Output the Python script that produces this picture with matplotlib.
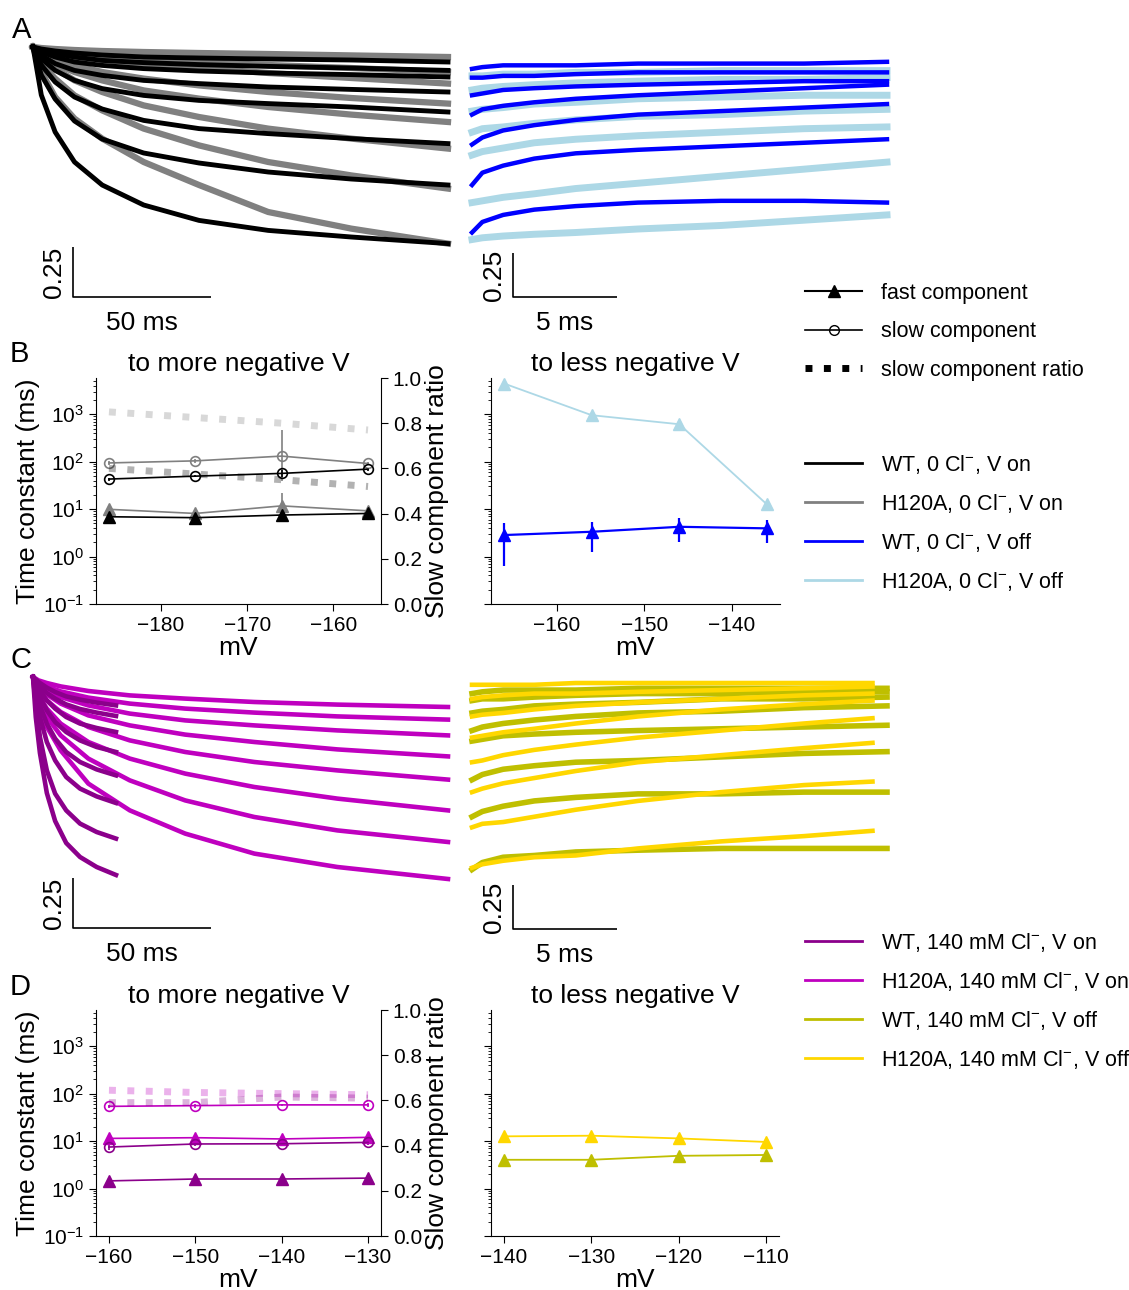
import numpy as np
import matplotlib
matplotlib.use('Agg')
import matplotlib.pyplot as plt
from matplotlib.lines import Line2D

plt.rcParams['font.family'] = ['Liberation Sans', 'DejaVu Sans']
plt.rcParams['mathtext.fontset'] = 'custom'
plt.rcParams['mathtext.rm'] = 'Liberation Sans'
plt.rcParams['mathtext.it'] = 'Liberation Sans:italic'
plt.rcParams['mathtext.bf'] = 'Liberation Sans:bold'

# ---------------- colours ----------------
C_WT0 = 'black'
C_H0 = 'gray'
C_WT0_OFF = 'blue'
C_H0_OFF = 'lightblue'
C_WT140 = 'darkmagenta'
C_H140 = 'm'
C_WT140_OFF = 'y'
C_H140_OFF = 'gold'

# ---------------- traces (normalised current) ----------------
# Panel A, step to more negative V (ms)
A_on_t = [0, 3, 8, 15, 25, 40, 60, 85, 115, 150]
A_on_wt = [
    [0, -.24, -.425, -.575, -.69, -.79, -.867, -.917, -.95, -.983],
    [0, -.14, -.26, -.37, -.46, -.53, -.58, -.625, -.66, -.69],
    [0, -.09, -.175, -.25, -.31, -.367, -.408, -.433, -.458, -.483],
    [0, -.058, -.117, -.167, -.208, -.242, -.267, -.283, -.3, -.325],
    [0, -.042, -.083, -.117, -.142, -.167, -.183, -.2, -.212, -.225],
    [0, -.025, -.05, -.075, -.092, -.108, -.12, -.13, -.138, -.15],
    [0, -.017, -.033, -.05, -.067, -.078, -.088, -.097, -.105, -.117],
    [0, -.01, -.02, -.03, -.04, -.05, -.055, -.06, -.065, -.075],
]
A_on_h120a = [
    [0, -.125, -.25, -.358, -.458, -.575, -.69, -.825, -.908, -.983],
    [0, -.083, -.158, -.242, -.317, -.408, -.492, -.575, -.642, -.708],
    [0, -.058, -.108, -.167, -.225, -.292, -.35, -.408, -.458, -.508],
    [0, -.042, -.083, -.125, -.167, -.217, -.258, -.3, -.338, -.375],
    [0, -.033, -.058, -.092, -.125, -.158, -.192, -.225, -.255, -.283],
    [0, -.02, -.035, -.05, -.065, -.085, -.105, -.13, -.155, -.183],
    [0, -.012, -.025, -.035, -.045, -.06, -.075, -.09, -.105, -.125],
    [0, -.005, -.01, -.015, -.02, -.025, -.03, -.035, -.042, -.05],
]
# Panel A, step to less negative V (ms)
A_off_t = [0, 0.5, 1.5, 3, 5, 8, 12, 16, 20]
A_off_wt = [
    [-.98, -.92, -.88, -.85, -.83, -.81, -.80, -.80, -.81],
    [-.71, -.64, -.60, -.56, -.53, -.51, -.49, -.47, -.45],
    [-.48, -.44, -.40, -.37, -.34, -.31, -.29, -.27, -.25],
    [-.31, -.28, -.26, -.24, -.22, -.20, -.18, -.16, -.14],
    [-.20, -.19, -.17, -.16, -.15, -.14, -.13, -.12, -.12],
    [-.10, -.10, -.09, -.09, -.08, -.07, -.07, -.07, -.07],
    [-.05, -.04, -.03, -.03, -.03, -.02, -.02, -.02, -.01],
]
A_off_h120a = [
    [-1.02, -1.01, -1.00, -.99, -.98, -.96, -.94, -.91, -.88],
    [-.81, -.80, -.78, -.76, -.73, -.70, -.66, -.62, -.58],
    [-.54, -.52, -.50, -.47, -.45, -.43, -.41, -.39, -.38],
    [-.41, -.39, -.38, -.36, -.34, -.32, -.31, -.29, -.28],
    [-.29, -.28, -.27, -.25, -.24, -.22, -.21, -.20, -.20],
    [-.17, -.16, -.15, -.14, -.13, -.12, -.11, -.11, -.10],
    [-.09, -.09, -.08, -.08, -.07, -.07, -.06, -.06, -.06],
]
# Panel C, step to more negative V
C_on_t_wt = [0, 1, 2.5, 5, 8, 12, 17, 23, 30]
C_on_wt = [
    [0, -.2, -.38, -.58, -.72, -.83, -.9, -.95, -.99],
    [0, -.133, -.3, -.467, -.583, -.667, -.733, -.775, -.808],
    [0, -.092, -.2, -.325, -.417, -.5, -.558, -.597, -.63],
    [0, -.067, -.142, -.233, -.308, -.375, -.425, -.462, -.492],
    [0, -.05, -.1, -.167, -.225, -.275, -.317, -.35, -.375],
    [0, -.033, -.07, -.117, -.158, -.2, -.233, -.255, -.275],
    [0, -.022, -.047, -.08, -.108, -.137, -.16, -.178, -.195],
    [0, -.013, -.03, -.053, -.075, -.097, -.113, -.128, -.142],
]
C_on_t_h = [0, 2, 5, 10, 20, 35, 55, 80, 110, 150]
C_on_h120a = [
    [0, -.15, -.25, -.367, -.533, -.667, -.783, -.883, -.95, -1.01],
    [0, -.117, -.2, -.292, -.408, -.517, -.617, -.7, -.767, -.825],
    [0, -.092, -.158, -.233, -.325, -.408, -.483, -.55, -.608, -.667],
    [0, -.067, -.117, -.175, -.25, -.317, -.375, -.425, -.467, -.513],
    [0, -.05, -.087, -.133, -.192, -.242, -.288, -.325, -.362, -.397],
    [0, -.037, -.067, -.1, -.142, -.183, -.217, -.242, -.267, -.292],
    [0, -.025, -.047, -.072, -.103, -.133, -.158, -.178, -.197, -.213],
    [0, -.017, -.03, -.047, -.07, -.092, -.108, -.125, -.138, -.15],
]
# Panel C, step to less negative V
C_off_t_wt = [0, 0.5, 1.5, 3, 5, 8, 12, 16, 20]
C_off_wt = [
    [-1.06, -1.02, -.99, -.98, -.96, -.95, -.94, -.94, -.94],
    [-.76, -.73, -.70, -.67, -.65, -.63, -.63, -.62, -.62],
    [-.55, -.52, -.49, -.47, -.45, -.44, -.42, -.40, -.39],
    [-.33, -.32, -.30, -.29, -.28, -.27, -.26, -.25, -.24],
    [-.27, -.25, -.23, -.21, -.19, -.17, -.16, -.14, -.13],
    [-.17, -.16, -.15, -.13, -.12, -.11, -.09, -.09, -.08],
    [-.10, -.09, -.09, -.08, -.07, -.06, -.06, -.05, -.05],
    [-.06, -.05, -.04, -.04, -.04, -.03, -.03, -.03, -.03],
]
C_off_t_h = [0, 0.5, 1.5, 3, 5, 8, 12, 16, 19.3]
C_off_h120a = [
    [-1.05, -1.03, -1.01, -.99, -.98, -.94, -.90, -.87, -.84],
    [-.82, -.80, -.79, -.76, -.72, -.67, -.62, -.58, -.56],
    [-.62, -.60, -.57, -.54, -.50, -.45, -.41, -.37, -.34],
    [-.45, -.44, -.41, -.38, -.35, -.31, -.27, -.23, -.20],
    [-.31, -.30, -.28, -.26, -.23, -.19, -.15, -.12, -.10],
    [-.19, -.18, -.17, -.15, -.13, -.11, -.09, -.07, -.06],
    [-.09, -.08, -.07, -.06, -.06, -.05, -.04, -.03, -.02],
    [-.01, -.01, -.01, -.01, 0, 0, 0, 0, 0],
]
SCALE_AMP = 0.25
SCALE_T_SLOW = 50
SCALE_T_FAST = 5

# ---------------- time constants ----------------
B_mV_on = [-186, -176, -166, -156]
B_wt_fast = [6.9, 6.6, 7.5, 8.1]
B_wt_fast_err = [0.5, 0.4, 1.2, 0.8]
B_h_fast = [9.9, 8.1, 11.7, 9.2]
B_h_fast_err_lo = [1.5, 1.0, 4.0, 1.0]
B_h_fast_err_hi = [1.5, 1.0, 10.5, 1.0]
B_wt_slow = [43, 49.5, 56.6, 69.6]
B_wt_slow_err = [3, 3, 10, 5]
B_h_slow = [94, 104, 131, 91.5]
B_h_slow_err_lo = [8, 8, 92, 6]
B_h_slow_err_hi = [8, 8, 330, 6]
B_wt_ratio = [0.60, 0.575, 0.55, 0.52]
B_h_ratio = [0.85, 0.825, 0.80, 0.77]

B_mV_off = [-166, -156, -146, -136]
B_wt_off_fast = [2.84, 3.33, 4.24, 3.93]
B_wt_off_fast_err = [2.2, 2.1, 2.2, 2.0]
B_h_off_fast = [4430, 953, 615, 12.6]

D_mV_on = [-160, -150, -140, -130]
D_wt_fast = [1.45, 1.59, 1.59, 1.66]
D_wt_fast_err = [0.1, 0.1, 0.1, 0.4]
D_h_fast = [11.4, 11.8, 11.1, 12.0]
D_h_fast_err = [2.0, 1.5, 1.5, 2.0]
D_wt_slow = [7.5, 8.7, 8.8, 9.4]
D_wt_slow_err = [1.0, 1.0, 1.0, 1.0]
D_h_slow = [54, 56, 58, 58]
D_h_slow_err = [5, 5, 3, 5]
D_wt_ratio = [0.59, 0.59, 0.615, 0.61]
D_h_ratio = [0.645, 0.635, 0.63, 0.625]

D_mV_off = [-140, -130, -120, -110]
D_wt_off_fast = [4.04, 4.04, 4.9, 5.1]
D_h_off_fast = [12.6, 13.0, 11.4, 9.6]

# ---------------- figure ----------------
W, H = 1129, 1290
fig = plt.figure(figsize=(W / 100, H / 100), dpi=100)


def px_rect(x0, y0, x1, y1):
    return [x0 / W, 1 - y1 / H, (x1 - x0) / W, (y1 - y0) / H]


FS_BIG = 19
FS_TICK = 15
FS_LEG = 15.5


def trace_axes(rect, xlim, ylim):
    ax = fig.add_axes(px_rect(*rect))
    ax.set_xlim(*xlim)
    ax.set_ylim(*ylim)
    ax.axis('off')
    return ax


def scalebar(ax, x0, y0, tlen, label_t):
    ax.plot([x0, x0, x0 + tlen], [y0 + SCALE_AMP, y0, y0], color='k', lw=1.2,
            clip_on=False, solid_capstyle='butt')
    ax.annotate('%g' % SCALE_AMP, xy=(x0, y0 + SCALE_AMP / 2), xytext=(-5, 0),
                textcoords='offset points', rotation=90, ha='right', va='center',
                fontsize=FS_BIG)
    ax.annotate(label_t, xy=(x0 + tlen / 2, y0), xytext=(0, -10),
                textcoords='offset points', ha='center', va='top', fontsize=FS_BIG)


# Panel A left
axA1 = trace_axes((33, 40, 448, 330), (0, 150), (-1.415, 0.035))
for tr in A_on_h120a:
    axA1.plot(A_on_t, tr, color=C_H0, lw=4.5, clip_on=False)
for tr in A_on_wt:
    axA1.plot(A_on_t, tr, color=C_WT0, lw=3.5, clip_on=False)
scalebar(axA1, 14.5, -1.25, SCALE_T_SLOW, '%d ms' % SCALE_T_SLOW)

# Panel A right
axA2 = trace_axes((472, 40, 887, 330), (0, 20), (-1.534, 0.114))
for tr in A_off_h120a:
    axA2.plot(A_off_t, tr, color=C_H0_OFF, lw=5, clip_on=False)
for tr in A_off_wt:
    axA2.plot(A_off_t, tr, color=C_WT0_OFF, lw=3.2, clip_on=False)
scalebar(axA2, 1.98, -1.347, SCALE_T_FAST, '%d ms' % SCALE_T_FAST)

# Panel C left
axC1 = trace_axes((33, 670, 448, 960), (0, 150), (-1.415, 0.035))
for tr in C_on_h120a:
    axC1.plot(C_on_t_h, tr, color=C_H140, lw=3.3, clip_on=False)
for tr in C_on_wt:
    axC1.plot(C_on_t_wt, tr, color=C_WT140, lw=3.3, clip_on=False)
scalebar(axC1, 14.5, -1.255, SCALE_T_SLOW, '%d ms' % SCALE_T_SLOW)

# Panel C right
axC2 = trace_axes((472, 670, 887, 960), (0, 20), (-1.574, 0.074))
for tr in C_off_wt:
    axC2.plot(C_off_t_wt, tr, color=C_WT140_OFF, lw=4, clip_on=False)
for tr in C_off_h120a:
    axC2.plot(C_off_t_h, tr, color=C_H140_OFF, lw=3.3, clip_on=False)
scalebar(axC2, 1.98, -1.398, SCALE_T_FAST, '%d ms' % SCALE_T_FAST)


def tc_axes(rect, xlim, left_labels=True, twin=False):
    ax = fig.add_axes(px_rect(*rect))
    ax.set_yscale('log')
    ax.set_ylim(0.1, 5800)
    ax.set_xlim(*xlim)
    ax.spines['top'].set_visible(False)
    ax.spines['right'].set_visible(False)
    ax.tick_params(labelsize=FS_TICK, length=5)
    ax.tick_params(which='minor', length=2.5)
    ax.set_xlabel('mV', fontsize=FS_BIG, labelpad=1)
    if left_labels:
        ax.set_ylabel('Time constant (ms)', fontsize=FS_BIG, labelpad=2)
    else:
        ax.tick_params(which='both', labelleft=False)
    axr = None
    if twin:
        axr = ax.twinx()
        axr.set_ylim(0, 1)
        axr.set_yticks(np.arange(0, 1.01, 0.2))
        axr.set_yticklabels(['%.1f' % v for v in np.arange(0, 1.01, 0.2)])
        for s in ('top', 'left', 'bottom'):
            axr.spines[s].set_visible(False)
        axr.tick_params(labelsize=FS_TICK, length=5)
        axr.set_ylabel('Slow component ratio', fontsize=FS_BIG, labelpad=2)
    return ax, axr


def tri(ax, x, y, c, yerr=None, lw=1.2, ms=8):
    ax.errorbar(x, y, yerr=yerr, color=c, marker='^', ms=ms, lw=lw,
                elinewidth=lw, capsize=0)


def circ(ax, x, y, c, yerr=None):
    ax.errorbar(x, y, yerr=yerr, color=c, marker='o', ms=7, mfc='none',
                mew=1.2, lw=1.2, elinewidth=1.2, capsize=0)


def ratio(ax, x, y, c):
    ax.plot(x, y, color=c, ls=':', lw=5, alpha=0.3)


# Panel B left
axB1, axB1r = tc_axes((96, 378, 381, 604), (-187.5, -154.5), twin=True)
axB1.set_title('to more negative V', fontsize=FS_BIG, pad=5)
ratio(axB1r, B_mV_on, B_h_ratio, C_H0)
ratio(axB1r, B_mV_on, B_wt_ratio, C_WT0)
circ(axB1, B_mV_on, B_h_slow, C_H0, [B_h_slow_err_lo, B_h_slow_err_hi])
tri(axB1, B_mV_on, B_h_fast, C_H0, [B_h_fast_err_lo, B_h_fast_err_hi])
circ(axB1, B_mV_on, B_wt_slow, C_WT0, B_wt_slow_err)
tri(axB1, B_mV_on, B_wt_fast, C_WT0, B_wt_fast_err)

# Panel B right
axB2, _ = tc_axes((491, 378, 780, 604), (-167.5, -134.5), left_labels=False)
axB2.set_title('to less negative V', fontsize=FS_BIG, pad=5)
tri(axB2, B_mV_off, B_h_off_fast, C_H0_OFF, None, lw=1.3, ms=9)
tri(axB2, B_mV_off, B_wt_off_fast, C_WT0_OFF, B_wt_off_fast_err, lw=1.6, ms=9)

# Panel D left
axD1, axD1r = tc_axes((96, 1010, 381, 1236), (-161.5, -128.5), twin=True)
axD1.set_title('to more negative V', fontsize=FS_BIG, pad=5)
ratio(axD1r, D_mV_on, D_h_ratio, C_H140)
ratio(axD1r, D_mV_on, D_wt_ratio, C_WT140)
circ(axD1, D_mV_on, D_h_slow, C_H140, D_h_slow_err)
tri(axD1, D_mV_on, D_h_fast, C_H140, D_h_fast_err)
circ(axD1, D_mV_on, D_wt_slow, C_WT140, D_wt_slow_err)
tri(axD1, D_mV_on, D_wt_fast, C_WT140, D_wt_fast_err)

# Panel D right
axD2, _ = tc_axes((491, 1010, 779, 1236), (-141.5, -108.5), left_labels=False)
axD2.set_title('to less negative V', fontsize=FS_BIG, pad=5)
tri(axD2, D_mV_off, D_h_off_fast, C_H140_OFF, None, lw=1.3, ms=9)
tri(axD2, D_mV_off, D_wt_off_fast, C_WT140_OFF, None, lw=1.3, ms=9)

# ---------------- legends ----------------
leg_kw = dict(loc='upper left', frameon=False, fontsize=FS_LEG, handlelength=2.65,
              handletextpad=0.9, borderpad=0, borderaxespad=0)
h1 = [Line2D([], [], color='k', marker='^', ms=8, lw=1.5),
      Line2D([], [], color='k', marker='o', ms=7, mfc='none', lw=1.2),
      Line2D([], [], color='k', ls=':', lw=5)]
fig.legend(h1, ['fast component', 'slow component', 'slow component ratio'],
           bbox_to_anchor=(805 / W, 1 - 283 / H), numpoints=1,
           labelspacing=0.81, **leg_kw)

lab2 = ['WT, 0 Cl$^{-}$, V on', 'H120A, 0 Cl$^{-}$, V on',
        'WT, 0 Cl$^{-}$, V off', 'H120A, 0 Cl$^{-}$, V off']
h2 = [Line2D([], [], color=c, lw=2) for c in (C_WT0, C_H0, C_WT0_OFF, C_H0_OFF)]
fig.legend(h2, lab2, bbox_to_anchor=(805 / W, 1 - 453 / H),
           labelspacing=0.74, **leg_kw)

lab3 = ['WT, 140 mM Cl$^{-}$, V on', 'H120A, 140 mM Cl$^{-}$, V on',
        'WT, 140 mM Cl$^{-}$, V off', 'H120A, 140 mM Cl$^{-}$, V off']
h3 = [Line2D([], [], color=c, lw=2) for c in (C_WT140, C_H140, C_WT140_OFF, C_H140_OFF)]
fig.legend(h3, lab3, bbox_to_anchor=(805 / W, 1 - 931 / H),
           labelspacing=0.74, **leg_kw)

# ---------------- panel letters ----------------
for letter, (x, y) in zip('ABCD', [(12, 16), (10, 340), (10, 646), (10, 973)]):
    fig.text(x / W, 1 - y / H, letter, fontsize=21, ha='left', va='top')

fig.savefig('out.png', dpi=100)
